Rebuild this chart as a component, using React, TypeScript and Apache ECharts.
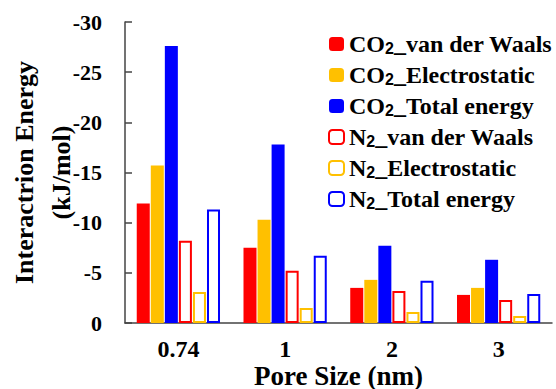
import React, { useEffect, useRef } from "react";
import * as echarts from "echarts";

const categories = ["0.74", "1", "2", "3"];
const co2Vdw = [-11.9, -7.5, -3.5, -2.8];
const co2Elec = [-15.7, -10.3, -4.3, -3.5];
const co2Total = [-27.6, -17.8, -7.7, -6.3];
const n2Vdw = [-8.2, -5.2, -3.2, -2.3];
const n2Elec = [-3.1, -1.5, -1.1, -0.7];
const n2Total = [-11.3, -6.7, -4.2, -2.9];
const yTicks = { min: -30, max: 0, interval: 5 };

const RED = "#FF0000";
const ORANGE = "#FFC000";
const BLUE = "#0000FF";
const FONT = "Liberation Serif";

export default function App() {
  const ref = useRef<HTMLDivElement>(null);
  useEffect(() => {
    if (!ref.current) return;
    const chart = echarts.init(ref.current, null, { renderer: "svg" });
    const filled = (name: string, data: number[], color: string) => ({
      name,
      type: "bar",
      data,
      barGap: "8%",
      barCategoryGap: "22%",
      itemStyle: { color },
    });
    const outlined = (name: string, data: number[], color: string) => ({
      name,
      type: "bar",
      data,
      barGap: "8%",
      barCategoryGap: "22%",
      itemStyle: { color: "#FFFFFF", borderColor: color, borderWidth: 2 },
    });
    chart.setOption({
      animation: false,
      grid: { left: 125, right: 4, top: 22, bottom: 66, outerBoundsMode: "none", containLabel: false },
      legend: {
        orient: "vertical",
        left: 328,
        top: 32,
        padding: 0,
        itemWidth: 15,
        itemHeight: 14,
        itemGap: 7,
        formatter: (name: string) => name.replace(/^(CO|N)2/, "$1{sub|2}"),
        textStyle: {
          fontFamily: FONT,
          fontWeight: "bold",
          fontSize: 24,
          lineHeight: 24,
          color: "#000",
          rich: {
            sub: {
              fontFamily: "Liberation Sans",
              fontWeight: "bold",
              fontSize: 16,
              lineHeight: 15,
              verticalAlign: "bottom",
              color: "#000",
            },
          },
        },
      },
      xAxis: {
        type: "category",
        data: categories,
        name: "Pore Size (nm)",
        nameLocation: "middle",
        nameGap: 39,
        nameMoveOverlap: false,
        nameTextStyle: { fontFamily: FONT, fontWeight: "bold", fontSize: 27, color: "#000" },
        axisLine: { lineStyle: { color: "#444", width: 1.5 } },
        axisTick: { inside: true, length: 6, lineStyle: { color: "#444", width: 1.5 } },
        axisLabel: { fontFamily: FONT, fontWeight: "bold", fontSize: 24, color: "#000", margin: 14 },
      },
      yAxis: {
        type: "value",
        inverse: true,
        min: yTicks.min,
        max: yTicks.max,
        interval: yTicks.interval,
        name: "Interactrion Energy\n(kJ/mol)",
        nameLocation: "middle",
        nameRotate: 90,
        nameGap: 45,
        nameMoveOverlap: false,
        nameTextStyle: {
          fontFamily: FONT,
          fontWeight: "bold",
          fontSize: 26,
          lineHeight: 37,
          color: "#000",
        },
        splitLine: { show: false },
        axisLine: { show: true, lineStyle: { color: "#444", width: 1.5 } },
        axisTick: { show: true, inside: true, length: 7, lineStyle: { color: "#444", width: 1.5 } },
        axisLabel: { fontFamily: FONT, fontWeight: "bold", fontSize: 22, color: "#000", margin: 23 },
      },
      series: [
        filled("CO2_van der Waals", co2Vdw, RED),
        filled("CO2_Electrostatic", co2Elec, ORANGE),
        filled("CO2_Total energy", co2Total, BLUE),
        outlined("N2_van der Waals", n2Vdw, RED),
        outlined("N2_Electrostatic", n2Elec, ORANGE),
        outlined("N2_Total energy", n2Total, BLUE),
      ],
    });
    return () => chart.dispose();
  }, []);
  return <div ref={ref} style={{ width: 556, height: 389, position: "absolute", left: 0, top: 0 }} />;
}
